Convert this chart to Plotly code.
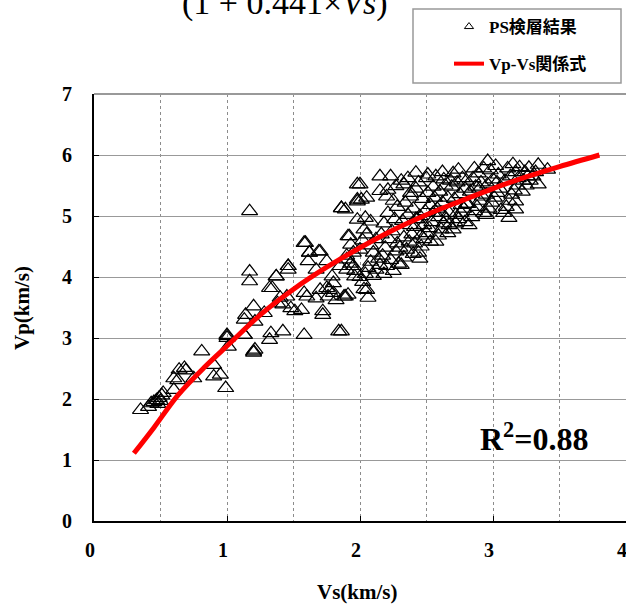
import plotly.graph_objects as go

# ---- data ----
ps_vs = [
    0.35,0.41,0.43,0.45,0.47,0.49,0.51,0.52,0.48,0.50,
    0.60,0.60,0.63,0.64,0.68,0.69,0.75,0.81,0.90,0.90,0.95,0.99,1.00,1.01,1.00,1.13,1.20,1.20,
    1.17,1.17,1.17,1.86,1.58,1.37,1.46,1.46,1.32,1.40,1.45,1.58,1.62,1.61,1.69,1.75,1.67,1.79,1.80,1.75,1.70,1.76,
    1.80,1.88,1.72,1.72,1.84,1.58,1.42,1.33,1.32,1.20,1.14,1.13,1.21,1.28,1.38,1.42,1.48,1.56,1.51,1.00,1.13,1.21,
    1.91,1.93,1.95,1.90,1.95,1.96,1.90,1.85,1.98,1.98,
    1.34,1.37,1.46,1.59,1.62,1.70,1.86,1.98,1.98,1.92,1.89,1.60,1.67,1.77,1.82,
    1.90,1.93,1.96,2.00,2.02,2.04,2.06,2.08,2.10,2.12,2.14,2.15,2.18,2.20,2.03,2.06,2.05,1.91,1.86,2.00,
    2.02,2.05,2.08,2.10,2.12,2.04,2.08,2.03,1.89,2.00,2.15,2.23,2.42,2.05,2.01,2.15,2.21,2.27,2.33,2.38,
    2.17,2.19,2.22,2.24,2.18,2.26,2.21,2.28,2.25,2.20,2.27,2.23,2.28,2.16,2.25,2.29,
    2.31,2.33,2.35,2.37,2.39,2.41,2.32,2.36,2.40,2.34,2.38,2.42,2.31,2.36,2.40,2.33,2.42,2.38,2.30,2.41,
    2.44,2.46,2.48,2.50,2.52,2.54,2.45,2.49,2.53,2.47,2.51,2.55,2.44,2.50,2.46,2.53,2.48,2.43,2.55,2.51,2.45,
    2.57,2.59,2.61,2.63,2.65,2.67,2.58,2.62,2.66,2.60,2.64,2.68,2.57,2.62,2.66,2.59,2.63,2.67,2.56,2.61,
    2.70,2.72,2.74,2.76,2.78,2.80,2.71,2.75,2.79,2.73,2.77,2.70,2.74,2.79,2.72,2.76,2.69,2.80,
    2.82,2.84,2.86,2.88,2.90,2.92,2.83,2.87,2.91,2.85,2.89,2.93,2.86,2.81,2.93,2.90,
    2.95,2.97,2.99,3.01,3.03,3.05,2.96,3.00,3.04,2.98,3.02,2.96,3.06,2.95,3.03,
    3.08,3.10,3.12,3.14,3.16,3.18,3.09,3.13,3.17,3.11,3.15,3.19,3.12,3.17,3.17,3.20,
    3.22,3.25,3.28,3.30,3.24,3.27,3.32,3.34,3.41,3.34,3.26,3.23,
]
ps_vp = [
    1.82,1.87,1.93,1.95,1.98,2.02,2.06,2.10,1.92,1.97,
    2.15,2.34,2.31,2.48,2.51,2.47,2.34,2.78,2.56,2.37,2.40,2.18,3.05,2.86,3.00,3.05,2.78,2.76,
    5.08,4.09,3.93,5.13,4.56,4.01,4.18,4.12,3.82,3.66,3.68,3.74,4.40,4.26,4.42,4.26,4.12,4.01,3.90,3.82,3.79,3.68,
    3.74,3.68,3.44,3.38,3.11,3.05,3.11,3.08,2.97,3.52,3.38,3.30,3.27,3.41,3.57,3.55,3.49,3.46,3.44,3.03,3.05,2.81,
    4.67,4.53,4.40,4.29,4.18,4.01,4.12,4.18,5.24,4.94,
    3.82,4.01,4.18,4.56,4.40,4.42,5.13,5.52,5.27,4.67,3.68,3.68,3.65,3.79,3.62,
    4.35,4.22,4.10,4.00,3.92,4.05,4.15,4.25,4.02,4.12,4.30,4.20,4.05,4.18,3.80,3.66,3.79,3.71,3.11,4.45,
    4.60,4.70,4.52,4.40,4.62,4.97,4.91,4.78,5.11,5.52,5.65,5.65,5.71,5.30,5.27,5.41,5.43,5.49,5.52,5.38,
    4.35,4.48,4.62,4.75,4.88,4.95,5.05,5.15,5.25,5.32,4.42,4.28,4.55,4.70,4.10,4.22,
    4.20,4.32,4.45,4.58,4.70,4.82,4.92,5.02,5.12,5.22,5.32,5.45,5.58,5.62,4.38,4.65,4.95,4.85,4.48,4.55,
    4.40,4.50,4.62,4.72,4.80,4.90,5.00,5.08,5.18,5.28,5.38,5.48,5.55,5.62,4.68,4.58,4.85,4.95,5.05,5.68,4.30,
    4.58,4.68,4.78,4.88,4.95,5.05,5.12,5.22,5.30,5.40,5.50,5.58,5.65,5.72,4.72,4.98,5.60,4.85,5.30,5.05,
    4.78,4.88,4.95,5.05,5.12,5.20,5.28,5.36,5.45,5.55,5.62,5.70,5.76,4.90,5.02,5.18,5.48,5.58,
    4.85,4.98,5.08,5.15,5.25,5.32,5.40,5.48,5.55,5.62,5.70,5.78,5.78,5.20,5.05,5.45,
    5.02,5.12,5.22,5.30,5.38,5.45,5.52,5.60,5.68,5.75,5.82,5.90,5.10,5.35,5.55,
    5.05,5.15,5.25,5.35,5.42,5.50,5.58,5.65,5.72,5.78,5.85,5.62,4.97,5.11,5.24,5.80,
    5.40,5.50,5.58,5.65,5.72,5.79,5.72,5.52,5.76,5.84,5.65,5.58,
]

curve_vs = [0.30, 0.45, 0.63, 0.83, 1.03, 1.25, 1.50, 1.75, 2.00, 2.25, 2.50, 2.75, 3.00, 3.25, 3.50, 3.80]
curve_vp = [1.11, 1.53, 2.06, 2.52, 2.93, 3.38, 3.80, 4.16, 4.48, 4.77, 5.02, 5.24, 5.45, 5.64, 5.81, 6.00]

x_ticks = [0, 1, 2, 3, 4]
y_ticks = [0, 1, 2, 3, 4, 5, 6, 7]

name_ps = "PS検層結果"
name_curve = "Vp-Vs関係式"
r2_text = "R<sup>2</sup>=0.88"
formula_text = "(1 + 0.441×<i>Vs</i>)"

SERIF = "Liberation Serif, Noto Sans CJK JP, serif"

fig = go.Figure()

fig.add_trace(go.Scatter(
    x=ps_vs, y=ps_vp, mode="markers", showlegend=False,
    marker=dict(symbol="triangle-up-open", size=14, color="black", line=dict(width=1.2, color="black")),
    hoverinfo="skip",
))
fig.add_trace(go.Scatter(
    x=curve_vs, y=curve_vp, mode="lines", showlegend=False,
    line=dict(color="#FF0000", width=5, shape="spline"),
    hoverinfo="skip",
))
# legend entries
fig.add_trace(go.Scatter(
    x=[None], y=[None], mode="markers", name=name_ps, legendgroup="a",
    marker=dict(symbol="triangle-up-open", size=8, color="black", line=dict(width=1, color="black")),
))
fig.add_trace(go.Scatter(
    x=[None], y=[None], mode="lines", name=name_curve, legendgroup="b",
    line=dict(color="#FF0000", width=4),
))

L, R, T, B = 94, 0, 94, 86
W, H = 626, 607
pw = W - L - R
ph = H - T - B

def px_x(p):
    return (p - L) / pw

def px_y(p):
    return (H - B - p) / ph

fig.update_layout(
    width=W, height=H,
    margin=dict(l=L, r=R, t=T, b=B, autoexpand=False),
    paper_bgcolor="white", plot_bgcolor="white",
    font=dict(family=SERIF, color="black"),
    showlegend=True,
    legend=dict(
        x=px_x(449), y=px_y(9), xanchor="left", yanchor="top",
        bgcolor="rgba(0,0,0,0)", borderwidth=0,
        font=dict(family=SERIF, size=17, color="black", weight="bold"),
        traceorder="grouped", tracegroupgap=12,
    ),
    xaxis=dict(
        range=[0, 4], tickvals=x_ticks, ticktext=[str(v) for v in x_ticks],
        showline=True, linecolor="black", linewidth=2, mirror=False,
        ticks="inside", ticklen=5, tickcolor="black", tickwidth=1,
        showgrid=True, gridcolor="#8c8c8c", gridwidth=1, griddash="dot",
        minor=dict(dtick=0.5, tick0=0, showgrid=True, gridcolor="#8c8c8c", gridwidth=1, griddash="dot", ticks=""),
        zeroline=False,
        tickfont=dict(family=SERIF, size=20, color="black", weight="bold"),
        ticklabelstandoff=10, ticklabeloverflow="allow", ticklabelshift=-4,
    ),
    yaxis=dict(
        range=[0, 7], tickvals=y_ticks, ticktext=[str(v) for v in y_ticks],
        showline=True, linecolor="black", linewidth=2, mirror=False,
        ticks="inside", ticklen=5, tickcolor="black", tickwidth=1,
        showgrid=True, gridcolor="#999999", gridwidth=1,
        zeroline=False,
        tickfont=dict(family=SERIF, size=20, color="black", weight="bold"),
        ticklabelstandoff=16,
    ),
)

# legend frame
fig.add_shape(type="rect", xref="paper", yref="paper",
              x0=px_x(413), x1=px_x(621), y0=px_y(83), y1=px_y(9),
              line=dict(color="#999999", width=1.5), fillcolor="rgba(0,0,0,0)", layer="above")
# top border of plot area
fig.add_shape(type="line", xref="paper", yref="paper", x0=0, x1=1, y0=1, y1=1,
              line=dict(color="#999999", width=2))

fig.add_annotation(text="Vs(km/s)", xref="paper", yref="paper", x=px_x(357), y=px_y(592),
                   showarrow=False, xanchor="center", yanchor="middle",
                   font=dict(family=SERIF, size=21, color="black", weight="bold"))
fig.add_annotation(text="Vp(km/s)", xref="paper", yref="paper", x=px_x(22), y=px_y(308),
                   showarrow=False, xanchor="center", yanchor="middle", textangle=-90,
                   font=dict(family=SERIF, size=21, color="black", weight="bold"))
fig.add_annotation(text=r2_text, xref="paper", yref="paper", x=px_x(534), y=px_y(437),
                   showarrow=False, xanchor="center", yanchor="middle",
                   font=dict(family=SERIF, size=32, color="black", weight="bold"))
fig.add_annotation(text=formula_text, xref="paper", yref="paper", x=px_x(285), y=px_y(24),
                   showarrow=False, xanchor="center", yanchor="bottom",
                   font=dict(family=SERIF, size=34, color="black"))

fig.write_html(
    "out.html",
    config={"displayModeBar": False, "staticPlot": True},
    post_script="document.body.style.margin='0px';document.body.style.overflow='hidden';",
)
